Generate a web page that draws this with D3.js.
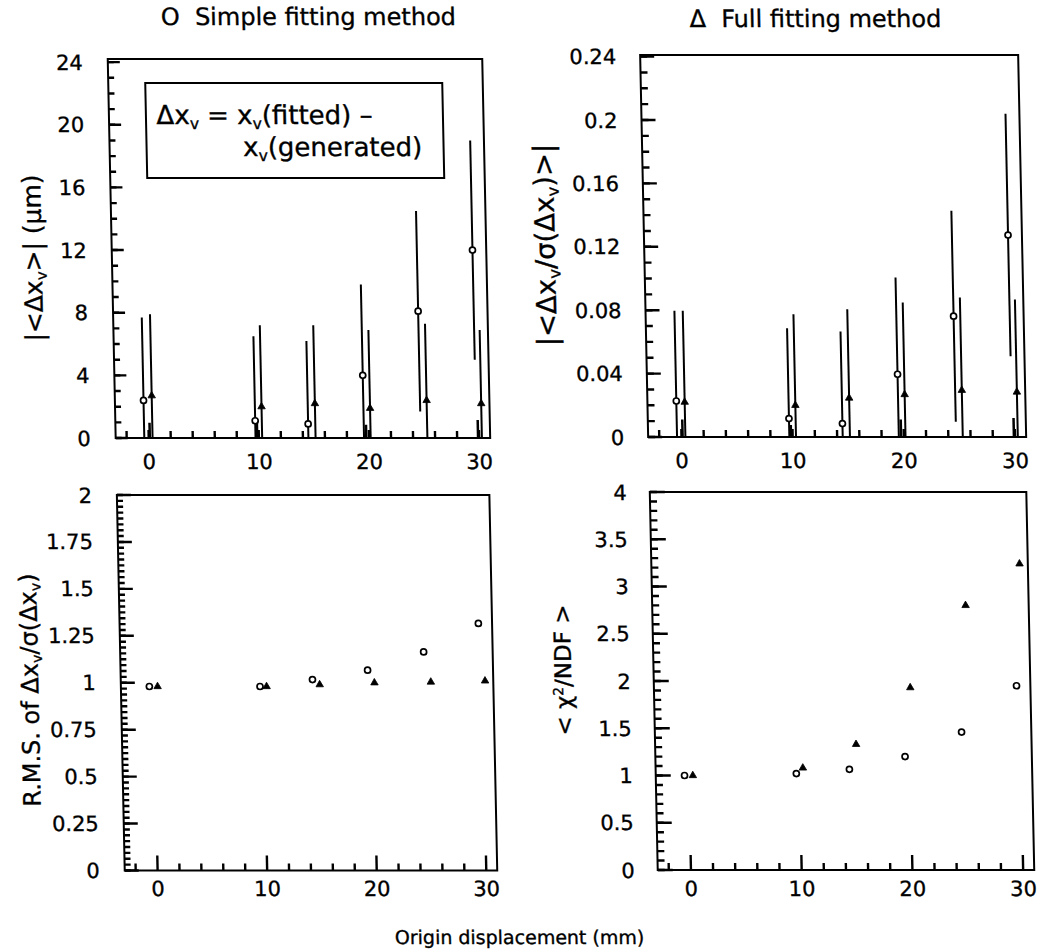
<!DOCTYPE html>
<html>
<head>
<meta charset="utf-8">
<script src="https://cdn.jsdelivr.net/npm/d3@7"></script>
<style>
  body { margin: 0; background: #fff; }
  svg text { font-family: "DejaVu Sans", sans-serif; fill: #000; stroke: #000; stroke-width: 0.35px; }
</style>
</head>
<body>
<svg id="fig" width="1040" height="952"></svg>
<script>
// origin displacement (mm) at which each method's point is drawn
const simpleX = [-0.4, 9.7, 14.5, 19.55, 24.7, 29.75];
const fullX = [0.35, 10.3, 15.15, 20.15, 25.3, 30.25];

// |<dx>| (um)
const meanSimple = [2.4, 1.1, 0.9, 4.0, 8.1, 12.0];
const meanSimpleErr = [5.3, 5.4, 5.3, 5.8, 6.4, 7.0];
const meanFull = [2.7, 2.0, 2.2, 1.9, 2.4, 2.2];
const meanFullErr = [5.2, 5.2, 5.0, 5.0, 4.9, 4.7];

// |<dx/sigma(dx)>|
const pullSimple = [0.0227, 0.0116, 0.0085, 0.0396, 0.0762, 0.1274];
const pullSimpleErr = [0.057, 0.057, 0.058, 0.061, 0.0666, 0.0765];
const pullFull = [0.022, 0.020, 0.0246, 0.0268, 0.0295, 0.0284];
const pullFullErr = [0.0576, 0.0575, 0.056, 0.058, 0.0585, 0.0584];

// R.M.S. of dx/sigma(dx)
const rmsSimple = [0.98, 0.98, 1.017, 1.067, 1.164, 1.316];
const rmsFull = [0.98, 0.98, 0.99, 1.0, 1.004, 1.01];

// <chi2/NDF>
const chi2Simple = [1.0, 1.02, 1.065, 1.2, 1.46, 1.95];
const chi2Full = [1.0, 1.08, 1.33, 1.93, 2.80, 3.24];

// short bar stubs sitting on the axis in the upper panels
const stubX = [0.1, 9.85, 19.75, 29.9];
const meanStub = [0.97, 0.97, 0.84, 1.15];
const pullStub = [0.011, 0.0075, 0.011, 0.012];

// tick values
const xMajorTicks = [0, 10, 20, 30];
const xMinorTicks = [-2, 2, 4, 6, 8, 12, 14, 16, 18, 22, 24, 26, 28];
const meanTicks = [0, 4, 8, 12, 16, 20, 24];
const pullTicks = [0, 0.04, 0.08, 0.12, 0.16, 0.2, 0.24];
const rmsTicks = [0, 0.25, 0.5, 0.75, 1, 1.25, 1.5, 1.75, 2];
const chi2Ticks = [0, 0.5, 1, 1.5, 2, 2.5, 3, 3.5, 4];

const xDomain = [-3, 31];

const svg = d3.select('#fig');
svg.append('rect').attr('width', 1040).attr('height', 952).attr('fill', '#fff');

// the scanned figure is slightly sheared
const root = svg.append('g').attr('transform', 'skewX(1.2)');

function sub(sel, txt) {
  sel.append('tspan').attr('font-size', '0.6em').attr('dy', '0.3em').text(txt);
  return sel;
}

const fmt = d3.format('~g');

function drawPanel(p) {
  const x = d3.scaleLinear().domain(xDomain).range([p.left, p.right]);
  const y = d3.scaleLinear().domain([0, p.yMax]).range([p.bottom, p.top]);
  const pg = root.append('g');

  // tick marks pointing inward, minor then major
  const minor = d3.range(0, p.yMax + 1e-9, p.yMinorStep);
  const yTickData = minor.map((v) => ({ v, len: p.minorLen }))
    .concat(p.yTicks.map((v) => ({ v, len: p.majorLen })));
  const xTickData = xMinorTicks.map((v) => ({ v, len: 7 }))
    .concat(xMajorTicks.map((v) => ({ v, len: p.xMajorLen })));

  pg.append('g').selectAll('line').data(yTickData).join('line')
    .attr('x1', p.left).attr('x2', (d) => p.left + d.len)
    .attr('y1', (d) => y(d.v)).attr('y2', (d) => y(d.v))
    .attr('stroke', '#000').attr('stroke-width', 2.4);
  pg.append('g').selectAll('line').data(xTickData).join('line')
    .attr('x1', (d) => x(d.v)).attr('x2', (d) => x(d.v))
    .attr('y1', p.bottom).attr('y2', (d) => p.bottom - d.len)
    .attr('stroke', '#000').attr('stroke-width', 2.4);

  pg.append('g').selectAll('text').data(p.yTicks).join('text')
    .attr('x', p.left - p.yPad).attr('y', (d) => y(d)).attr('dy', '0.36em')
    .attr('text-anchor', 'end').attr('font-size', 21)
    .text(fmt);

  pg.append('g').selectAll('text').data(xMajorTicks).join('text')
    .attr('x', (d) => x(d)).attr('y', p.bottom + p.xPad).attr('dy', '0.36em')
    .attr('text-anchor', 'middle').attr('font-size', 21)
    .text(fmt);

  // frame
  pg.append('rect')
    .attr('x', p.left).attr('y', p.top)
    .attr('width', p.right - p.left).attr('height', p.bottom - p.top)
    .attr('fill', 'none').attr('stroke', '#000').attr('stroke-width', 2);

  const series = [
    { xs: simpleX, ys: p.simple, errs: p.simpleErr, kind: 'circle' },
    { xs: fullX, ys: p.full, errs: p.fullErr, kind: 'triangle' },
  ];

  series.forEach((s) => {
    if (!s.errs) return;
    pg.append('g').selectAll('line')
      .data(s.ys.map((v, i) => ({ xv: s.xs[i], lo: Math.max(0, v - s.errs[i]), hi: Math.min(p.yMax, v + s.errs[i]) })))
      .join('line')
      .attr('x1', (d) => x(d.xv)).attr('x2', (d) => x(d.xv))
      .attr('y1', (d) => y(d.lo)).attr('y2', (d) => y(d.hi))
      .attr('stroke', '#000').attr('stroke-width', 2);
  });

  if (p.stub) {
    pg.append('g').selectAll('line')
      .data(stubX.map((xv, i) => ({ xv, h: p.stub[i] })))
      .join('line')
      .attr('x1', (d) => x(d.xv)).attr('x2', (d) => x(d.xv))
      .attr('y1', y(0)).attr('y2', (d) => y(d.h))
      .attr('stroke', '#000').attr('stroke-width', 2.5);
  }

  series.forEach((s) => {
    const pts = s.ys.map((v, i) => ({ xv: s.xs[i], v }));
    if (s.kind === 'circle') {
      pg.append('g').selectAll('circle').data(pts).join('circle')
        .attr('cx', (d) => x(d.xv)).attr('cy', (d) => y(d.v)).attr('r', 3)
        .attr('fill', '#fff').attr('stroke', '#000').attr('stroke-width', 1.7);
    } else {
      pg.append('g').selectAll('path').data(pts).join('path')
        .attr('transform', (d) => `translate(${x(d.xv)},${y(d.v)})`)
        .attr('d', d3.symbol(d3.symbolTriangle, 24))
        .attr('fill', '#000').attr('stroke', '#000').attr('stroke-width', 0.8);
    }
  });
}

drawPanel({
  left: 106.5, right: 481, top: 59, bottom: 438, yMax: 24.2,
  yTicks: meanTicks, yMinorStep: 1, minorLen: 6, majorLen: 12, xMajorLen: 8, xPad: 23, yPad: 25,
  simple: meanSimple, simpleErr: meanSimpleErr, full: meanFull, fullErr: meanFullErr, stub: meanStub,
});

drawPanel({
  left: 639, right: 1017, top: 55, bottom: 437, yMax: 0.241,
  yTicks: pullTicks, yMinorStep: 0.01, minorLen: 7, majorLen: 14, xMajorLen: 8, xPad: 23, yPad: 24,
  simple: pullSimple, simpleErr: pullSimpleErr, full: pullFull, fullErr: pullFullErr, stub: pullStub,
});

drawPanel({
  left: 106.5, right: 479, top: 495, bottom: 870.5, yMax: 2,
  yTicks: rmsTicks, yMinorStep: 0.25 / 8, minorLen: 6, majorLen: 14, xMajorLen: 15, xPad: 18, yPad: 25,
  simple: rmsSimple, full: rmsFull,
});

drawPanel({
  left: 639.5, right: 1016, top: 492, bottom: 870, yMax: 4,
  yTicks: chi2Ticks, yMinorStep: 0.1, minorLen: 7, majorLen: 15, xMajorLen: 15, xPad: 18, yPad: 23,
  simple: chi2Simple, full: chi2Full,
});

// legend box in the upper-left panel
root.append('rect')
  .attr('x', 143.5).attr('y', 83).attr('width', 297).attr('height', 95)
  .attr('fill', '#fff').attr('stroke', '#000').attr('stroke-width', 2);
const l1 = root.append('text').attr('x', 154).attr('y', 124).attr('font-size', 26);
l1.append('tspan').text('\u0394x');
sub(l1, 'v');
l1.append('tspan').attr('dy', '-0.18em').text(' = x');
sub(l1, 'v');
l1.append('tspan').attr('dy', '-0.18em').text('(fitted) \u2013');
const l2 = root.append('text').attr('x', 240).attr('y', 156).attr('font-size', 26);
l2.append('tspan').text('x');
sub(l2, 'v');
l2.append('tspan').attr('dy', '-0.18em').text('(generated)');

// column titles
root.append('text').attr('x', 308).attr('y', 25).attr('text-anchor', 'middle').attr('font-size', 24)
  .attr('xml:space', 'preserve').text('O  Simple fitting method');
root.append('text').attr('x', 815).attr('y', 27).attr('text-anchor', 'middle').attr('font-size', 24)
  .attr('xml:space', 'preserve').text('\u0394  Full fitting method');

// y axis titles
function yTitle(cx, cy, size, build) {
  const t = root.append('text')
    .attr('transform', `translate(${cx},${cy}) rotate(-90)`)
    .attr('text-anchor', 'middle').attr('dy', '0.35em').attr('font-size', size);
  build(t);
}
yTitle(27.5, 258, 25, (t) => {
  t.append('tspan').text('|<\u0394x');
  sub(t, 'v');
  t.append('tspan').attr('dy', '-0.18em').text('>| (\u03bcm)');
});
yTitle(540, 245, 27.5, (t) => {
  t.append('tspan').text('|<\u0394x');
  sub(t, 'v');
  t.append('tspan').attr('dy', '-0.18em').text('/\u03c3(\u0394x');
  sub(t, 'v');
  t.append('tspan').attr('dy', '-0.18em').text(')>|');
});
yTitle(15.5, 690, 24, (t) => {
  t.append('tspan').text('R.M.S. of \u0394x');
  sub(t, 'v');
  t.append('tspan').attr('dy', '-0.18em').text('/\u03c3(\u0394x');
  sub(t, 'v');
  t.append('tspan').attr('dy', '-0.18em').text(')');
});
yTitle(549, 670, 23, (t) => {
  t.append('tspan').text('< \u03c7');
  t.append('tspan').attr('font-size', '0.6em').attr('dy', '-0.6em').text('2');
  t.append('tspan').attr('dy', '0.36em').text('/NDF >');
});

// shared x title
root.append('text').attr('x', 500).attr('y', 944).attr('text-anchor', 'middle').attr('font-size', 19)
  .text('Origin displacement (mm)');
</script>
</body>
</html>
